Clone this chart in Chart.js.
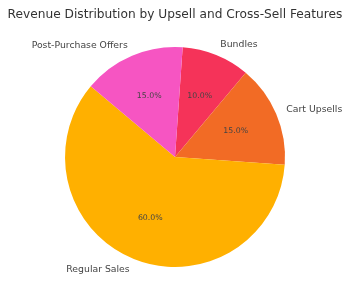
<!DOCTYPE html>
<html lang="en">
<head>
  <title>Revenue Distribution</title>
  <script type="text/javascript" src="https://cdn.jsdelivr.net/npm/chart.js"></script>
  <style>
    body { margin: 0; background: #fff; }
    #wrap { width: 350px; height: 300px; }
  </style>
</head>
<body>
<div id="wrap"><canvas id="c"></canvas></div>
<script>
  // Slices in clockwise order, starting just right of 12 o'clock
  const categories = ['Bundles', 'Cart Upsells', 'Regular Sales', 'Post-Purchase Offers'];
  const shares = [10, 15, 60, 15];
  const colours = ['#F53359', '#F26B25', '#FFB000', '#F655C2'];

  const font = "'DejaVu Sans', sans-serif";

  // matplotlib-style labels: names at 1.1 r, percentages at 0.6 r
  const pieLabels = {
    id: 'pieLabels',
    afterDatasetsDraw(chart) {
      const ctx = chart.ctx;
      const total = shares.reduce((a, b) => a + b, 0);
      chart.getDatasetMeta(0).data.forEach((arc, i) => {
        const mid = (arc.startAngle + arc.endAngle) / 2;
        const r = arc.outerRadius;
        const cos = Math.cos(mid), sin = Math.sin(mid);
        ctx.save();
        ctx.textBaseline = 'middle';
        ctx.font = '9.3px ' + font;
        ctx.fillStyle = '#444';
        ctx.textAlign = cos >= 0 ? 'left' : 'right';
        ctx.fillText(categories[i], arc.x + cos * r * 1.1, arc.y + sin * r * 1.1);
        ctx.font = '7.8px ' + font;
        ctx.fillStyle = '#444';
        ctx.textAlign = 'center';
        const pct = (shares[i] / total * 100).toFixed(1) + '%';
        ctx.fillText(pct, arc.x + cos * r * 0.6, arc.y + sin * r * 0.6);
        ctx.restore();
      });
    }
  };

  new Chart(document.getElementById('c'), {
    type: 'pie',
    data: {
      labels: categories,
      datasets: [{
        data: shares,
        backgroundColor: colours,
        borderWidth: 0
      }]
    },
    options: {
      responsive: true,
      maintainAspectRatio: false,
      animation: false,
      rotation: 4,
      layout: { padding: { top: 0, bottom: 33, left: 0, right: 0 } },
      plugins: {
        legend: { display: false },
        tooltip: { enabled: false },
        title: {
          display: true,
          text: 'Revenue Distribution by Upsell and Cross-Sell Features',
          color: '#333',
          font: { family: font, size: 12.2, weight: 'normal' },
          padding: { top: 8, bottom: 24.4 }
        }
      }
    },
    plugins: [pieLabels]
  });
</script>
</body>
</html>
